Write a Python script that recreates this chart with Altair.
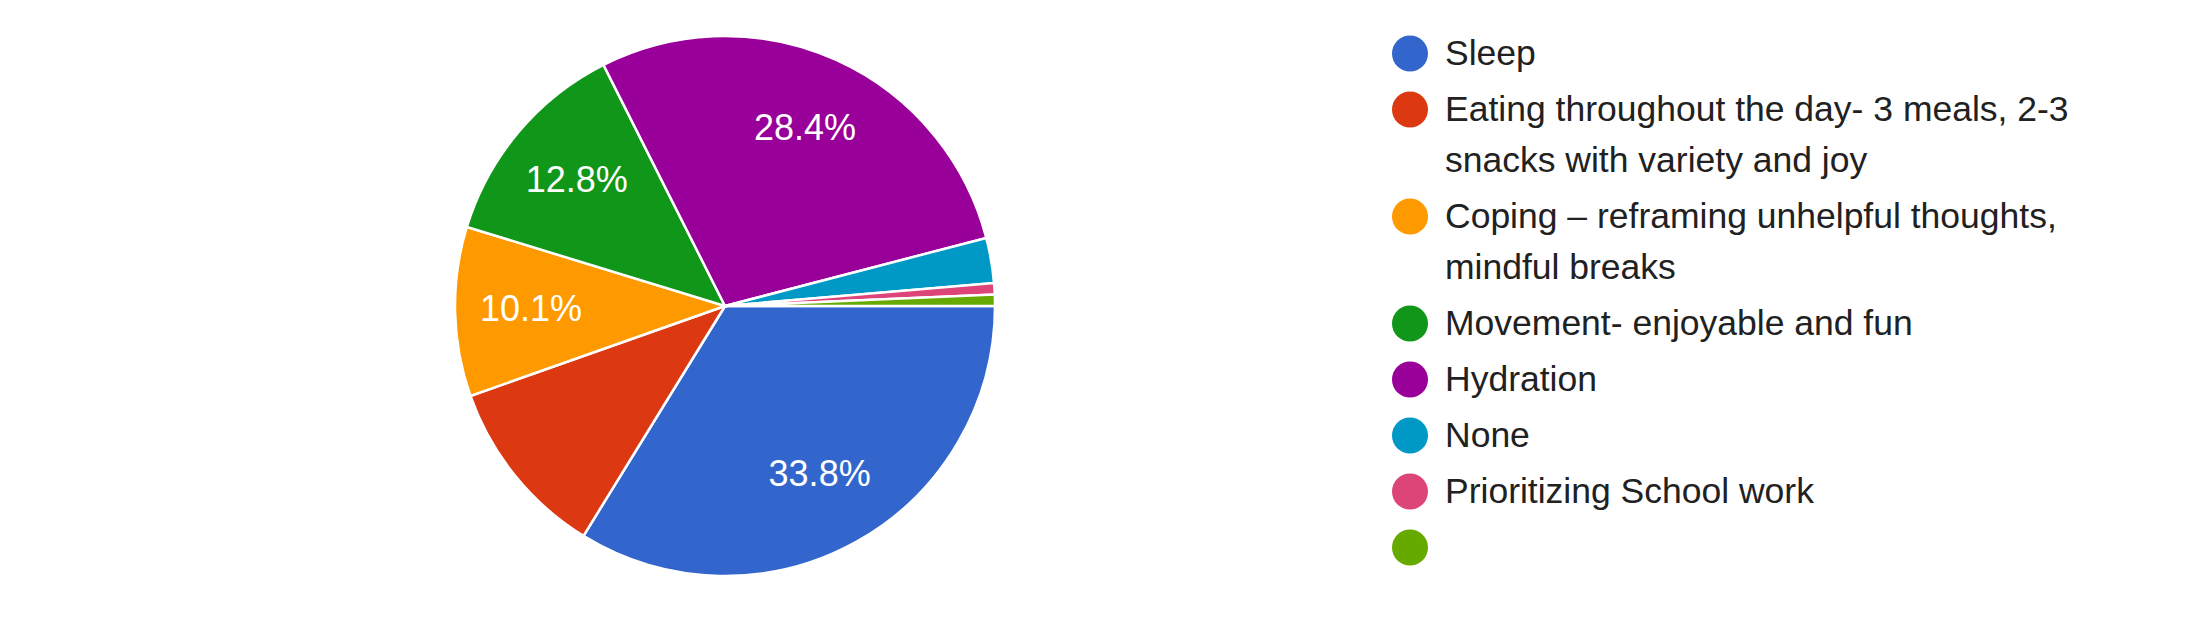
import math
import altair as alt
import pandas as pd

# ---- data ----
categories = [
    "Sleep",
    "Eating throughout the day- 3 meals, 2-3 snacks with variety and joy",
    "Coping – reframing unhelpful thoughts, mindful breaks",
    "Movement- enjoyable and fun",
    "Hydration",
    "None",
    "Prioritizing School work",
    "",
]
legend_lines = [
    ["Sleep"],
    ["Eating throughout the day- 3 meals, 2-3", "snacks with variety and joy"],
    ["Coping – reframing unhelpful thoughts,", "mindful breaks"],
    ["Movement- enjoyable and fun"],
    ["Hydration"],
    ["None"],
    ["Prioritizing School work"],
    [""],
]
counts = [50, 16, 15, 19, 42, 4, 1, 1]
slice_labels = ["33.8%", "", "10.1%", "12.8%", "28.4%", "", "", ""]
colors = ["#3366cc", "#dc3912", "#ff9900", "#109618", "#990099", "#0099c6", "#dd4477", "#66aa00"]

# ---- layout constants ----
W, H = 2183, 601
CX, CY = 717, 298
R_OUT, R_LABEL = 270, 194
ROW_GAP, LINE_GAP, FIRST_ROW = 56, 51, 45.5
SYM_X, TXT_X = 1402, 1437

# legend row positions derived from the number of wrapped lines
ly = []
pos = FIRST_ROW
for lines in legend_lines:
    ly.append(pos)
    pos += ROW_GAP + LINE_GAP * (len(lines) - 1)

df = pd.DataFrame({
    "idx": list(range(len(categories))),
    "category": categories,
    "count": counts,
    "label": slice_labels,
    "lines": legend_lines,
    "ly": ly,
})

color = alt.Color("idx:N", scale=alt.Scale(domain=list(range(len(categories))), range=colors), legend=None)
theta = alt.Theta("count:Q", stack=True, scale=alt.Scale(range=[math.pi / 2, math.pi / 2 + 2 * math.pi]))
order = alt.Order("idx:Q", sort="ascending")

base = alt.Chart(df)

arcs = base.mark_arc(radius=R_OUT, stroke="white", strokeWidth=2.5).encode(
    theta=theta, color=color, order=order,
    x=alt.value(CX), y=alt.value(CY),
)

pct = base.mark_text(radius=R_LABEL, fontSize=36, font="Liberation Sans", color="white",
                     align="center", baseline="middle").encode(
    theta=theta, order=order, text="label:N",
    x=alt.value(CX), y=alt.value(CY),
)

yscale = alt.Scale(domain=[0, H], range=[0, H])

sym = base.mark_circle(size=1296, opacity=1).encode(
    x=alt.value(SYM_X),
    y=alt.Y("ly:Q", scale=yscale, axis=None),
    color=color,
)

txt = base.mark_text(align="left", baseline="middle", fontSize=35.5, lineHeight=LINE_GAP,
                     font="Liberation Sans", color="#212121").encode(
    x=alt.value(TXT_X),
    y=alt.Y("ly:Q", scale=yscale, axis=None),
    text="lines",
)

chart = alt.layer(arcs, pct, sym, txt).properties(
    width=W, height=H, padding=0, background="white"
).configure_view(stroke=None)

chart.save("out.html", embed_options={"renderer": "svg", "actions": False})
